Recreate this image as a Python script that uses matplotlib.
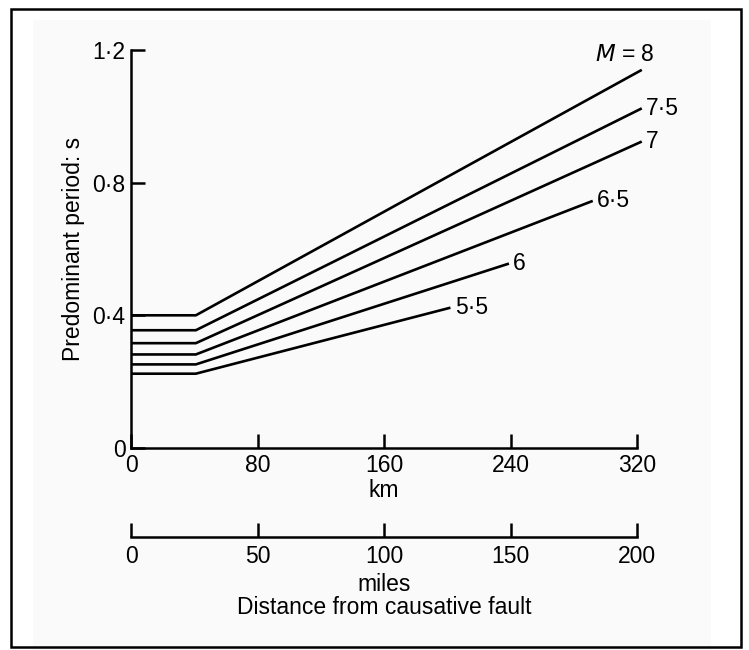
import numpy as np
import matplotlib
matplotlib.use("Agg")
from matplotlib import pyplot as plt
from matplotlib.patches import Rectangle

plt.rcParams["font.family"] = ["Liberation Sans", "DejaVu Sans"]
plt.rcParams["font.size"] = 16.5

# values
magnitudes = ["$M$ = 8", "7·5", "7", "6·5", "6", "5·5"]
flat_period = [0.40, 0.355, 0.316, 0.282, 0.252, 0.224]
knee_km = 41
end_km = [323, 323, 323, 292, 239, 202]
end_period = [1.14, 1.024, 0.924, 0.745, 0.556, 0.423]

km_ticks = [0, 80, 160, 240, 320]
mile_ticks = [0, 50, 100, 150, 200]
y_ticks = [0, 0.4, 0.8, 1.2]
y_ticklabels = ["0", "0·4", "0·8", "1·2"]

fig = plt.figure(figsize=(7.49, 6.5), dpi=100)

# scanned page tint and frame
fig.patches.append(Rectangle((0.044, 0.0), 0.905, 0.969, transform=fig.transFigure,
                             facecolor="#fafafa", edgecolor="none", zorder=-10))
fig.patches.append(Rectangle((0.0147, 0.0046), 0.9746, 0.9814, transform=fig.transFigure,
                             fill=False, edgecolor="black", linewidth=1.8, zorder=-5))

ax = fig.add_axes([0.1749, 0.3108, 0.6756, 0.6123])
for i in range(len(magnitudes)):
    ax.plot([0, knee_km, end_km[i]], [flat_period[i], flat_period[i], end_period[i]],
            color="black", lw=1.9, clip_on=False, solid_capstyle="butt")

# curve labels
for i, lab in enumerate(magnitudes):
    if i == 0:
        ax.annotate(lab, (end_km[i], end_period[i]), xytext=(-12, 3), textcoords="offset points",
                    ha="center", va="bottom", annotation_clip=False)
    else:
        ax.annotate(lab, (end_km[i], end_period[i]), xytext=(3, 0), textcoords="offset points",
                    ha="left", va="center", annotation_clip=False)

ax.set_xlim(0, 320)
ax.set_ylim(0, 1.2)
ax.set_xticks(km_ticks)
ax.set_yticks(y_ticks)
ax.set_yticklabels(y_ticklabels)
ax.spines["top"].set_visible(False)
ax.spines["right"].set_visible(False)
ax.spines["left"].set_linewidth(1.8)
ax.spines["bottom"].set_linewidth(1.8)
ax.tick_params(direction="in", length=10, width=1.8, pad=4)
ax.set_xlabel("km", labelpad=2)
ax.set_ylabel("Predominant period: s", labelpad=5)
ax.patch.set_alpha(0)

# second scale in miles
ax2 = fig.add_axes([0.1749, 0.1738, 0.6756, 0.0001])
ax2.set_xlim(0, 200)
ax2.set_xticks(mile_ticks)
ax2.set_yticks([])
for s in ["top", "right", "left"]:
    ax2.spines[s].set_visible(False)
ax2.spines["bottom"].set_linewidth(1.8)
ax2.tick_params(axis="x", direction="in", length=10, width=1.8, pad=6)
ax2.set_xlabel("miles", labelpad=3)
ax2.patch.set_alpha(0)

fig.text(0.5127, 0.066, "Distance from causative fault", ha="center", va="center")

fig.savefig("out.png", dpi=100)
